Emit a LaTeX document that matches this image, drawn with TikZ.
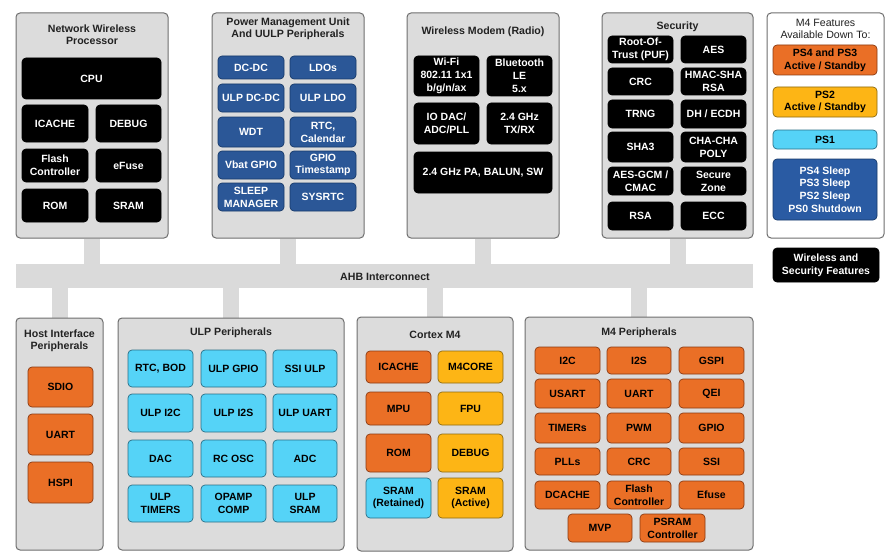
\documentclass[tikz,border=0pt]{standalone}
\usepackage{fontspec}
\setmainfont{Liberation Sans}
\usetikzlibrary{backgrounds}
\definecolor{panelfill}{HTML}{DCDCDC}
\definecolor{panelborder}{HTML}{6E6E6E}
\definecolor{busgray}{HTML}{DADADA}
\definecolor{pmublue}{HTML}{2B5797}
\definecolor{pmuedge}{HTML}{173A6A}
\definecolor{orangeF}{HTML}{EA6F26}
\definecolor{orangeE}{HTML}{8A3A12}
\definecolor{yellowF}{HTML}{FDB515}
\definecolor{yellowE}{HTML}{8C6B12}
\definecolor{cyanF}{HTML}{55D3F7}
\definecolor{cyanE}{HTML}{2A6F86}
\definecolor{dblueF}{HTML}{2A5BA3}
\definecolor{titlegray}{HTML}{222222}
\newcommand\cellfont{\fontsize{10.5}{12.8}\selectfont\bfseries}
\newcommand\mycell[7]{\node[#1,minimum width=#5pt,minimum height=#6pt] (#2) at (#3,#4) {#7};}
\tikzset{
  panel/.style={draw=panelborder, fill=panelfill, rounded corners=4pt, line width=1pt, inner sep=0pt},
  ptitle/.style={align=center, font=\fontsize{10.6}{12}\selectfont\bfseries, text=titlegray, inner sep=0pt},
  cellbox/.style={rounded corners=4pt, inner sep=0pt, align=center, font=\cellfont, line width=0.7pt},
  blk/.style={cellbox, fill=black, draw=black, text=white},
  pmub/.style={cellbox, fill=pmublue, draw=pmuedge, text=white},
  org/.style={cellbox, fill=orangeF, draw=orangeE, text=black},
  yel/.style={cellbox, fill=yellowF, draw=yellowE, text=black},
  cyn/.style={cellbox, fill=cyanF, draw=cyanE, text=black},
  dbl/.style={cellbox, fill=dblueF, draw=pmuedge, text=white},
  stub/.style={draw=busgray, line width=16pt},
}
\begin{document}
\begin{tikzpicture}[x=1pt,y=-1pt]
\useasboundingbox (0,0) rectangle (890,559);
% bus
\node[fill=busgray, inner sep=0pt, minimum width=737pt, minimum height=24pt] (bus) at (384.5,276) {};
\node[font=\fontsize{10.6}{12}\selectfont\bfseries, text=titlegray, inner sep=0pt] (ahb) at (385,277) {AHB Interconnect};
% panels
\node[panel, minimum width=152pt, minimum height=225pt] (nwp) at (92,125.5) {};
\node[panel, minimum width=152pt, minimum height=225pt] (pmu) at (288,125.5) {};
\node[panel, minimum width=152pt, minimum height=225pt] (modem) at (483,125.5) {};
\node[panel, minimum width=151pt, minimum height=225pt] (sec) at (677.5,125.5) {};
\node[panel, fill=white, minimum width=117pt, minimum height=225pt] (legend) at (825.5,125.5) {};
\node[panel, minimum width=87pt, minimum height=232pt] (host) at (59.5,434) {};
\node[panel, minimum width=226pt, minimum height=232pt] (ulp) at (231,434) {};
\node[panel, minimum width=156pt, minimum height=234pt] (cortex) at (435,434) {};
\node[panel, minimum width=228pt, minimum height=233pt] (m4p) at (639,433.5) {};
% stubs
\begin{scope}[on background layer]
\draw[stub] (nwp) -- (nwp |- bus);
\draw[stub] (pmu) -- (pmu |- bus);
\draw[stub] (modem) -- (modem |- bus);
\draw[stub] (sec) -- (sec |- bus);
\draw[stub] (host) -- (host |- bus);
\draw[stub] (ulp) -- (ulp |- bus);
\draw[stub] (cortex) -- (cortex |- bus);
\draw[stub] (m4p) -- (m4p |- bus);
\end{scope}
% titles
\node[ptitle] (tnwp) at (92,34.5) {Network Wireless\\Processor};
\node[ptitle] (tpmu) at (288,28.5) {Power Management Unit\\And UULP Peripherals};
\node[ptitle] (tmodem) at (483,32) {Wireless Modem (Radio)};
\node[ptitle] (tsec) at (677.5,27) {Security};
\node[align=center, font=\fontsize{10.6}{12}\selectfont, text=titlegray, inner sep=0pt] (tleg) at (825.5,29) {M4 Features\\Available Down To:};
\node[ptitle] (thost) at (59.5,340.5) {Host Interface\\Peripherals};
\node[ptitle] (tulp) at (231,333) {ULP Peripherals};
\node[ptitle] (tcortex) at (435,335) {Cortex M4};
\node[ptitle] (tm4p) at (639,333) {M4 Peripherals};
% NWP
\mycell{blk}{cpu}{91.5}{78.5}{139}{41}{CPU}
\mycell{blk}{nicache}{55}{123.5}{66}{37}{ICACHE}
\mycell{blk}{ndebug}{128.5}{123.5}{65}{37}{DEBUG}
\mycell{blk}{nflash}{55}{165.5}{66}{33}{Flash\\Controller}
\mycell{blk}{nefuse}{128.5}{165.5}{65}{33}{eFuse}
\mycell{blk}{nrom}{55}{205.5}{66}{33}{ROM}
\mycell{blk}{nsram}{128.5}{205.5}{65}{33}{SRAM}
% PMU
\mycell{pmub}{dcdc}{251}{67.5}{66}{23}{DC-DC}
\mycell{pmub}{ldos}{323}{67.5}{66}{23}{LDOs}
\mycell{pmub}{uldcdc}{251}{98}{66}{28}{ULP DC-DC}
\mycell{pmub}{ulldo}{323}{98}{66}{28}{ULP LDO}
\mycell{pmub}{wdt}{251}{132}{66}{30}{WDT}
\mycell{pmub}{rtccal}{323}{132}{66}{30}{RTC,\\Calendar}
\mycell{pmub}{vbat}{251}{165}{66}{28}{Vbat GPIO}
\mycell{pmub}{gpiots}{323}{165}{66}{28}{GPIO\\Timestamp}
\mycell{pmub}{sleepm}{251}{197}{66}{28}{SLEEP\\MANAGER}
\mycell{pmub}{sysrtc}{323}{197}{66}{28}{SYSRTC}
% Modem
\mycell{blk}{wifi}{446.5}{76}{65}{40}{Wi-Fi\\802.11 1x1\\b/g/n/ax}
\mycell{blk}{ble}{519.5}{76}{65}{40}{Bluetooth\\LE\\5.x}
\mycell{blk}{iodac}{446.5}{123.5}{65}{41}{IO DAC/\\ADC/PLL}
\mycell{blk}{txrx}{519.5}{123.5}{65}{41}{2.4 GHz\\TX/RX}
\mycell{blk}{pa}{483}{172.5}{138}{41}{2.4 GHz PA, BALUN, SW}
% Security
\mycell{blk}{rot}{640.5}{49.5}{65}{27}{Root-Of-\\Trust (PUF)}
\mycell{blk}{aes}{713.5}{49.5}{65}{27}{AES}
\mycell{blk}{scrc}{640.5}{81.5}{65}{27}{CRC}
\mycell{blk}{hmac}{713.5}{81.5}{65}{27}{HMAC-SHA\\RSA}
\mycell{blk}{trng}{640.5}{114}{65}{28}{TRNG}
\mycell{blk}{dh}{713.5}{114}{65}{28}{DH / ECDH}
\mycell{blk}{sha3}{640.5}{147}{65}{30}{SHA3}
\mycell{blk}{chacha}{713.5}{147}{65}{30}{CHA-CHA\\POLY}
\mycell{blk}{aesgcm}{640.5}{181}{65}{28}{AES-GCM /\\CMAC}
\mycell{blk}{szone}{713.5}{181}{65}{28}{Secure\\Zone}
\mycell{blk}{srsa}{640.5}{216}{65}{28}{RSA}
\mycell{blk}{ecc}{713.5}{216}{65}{28}{ECC}
% Legend
\mycell{org}{ps43}{825}{60}{104}{30}{PS4 and PS3\\Active / Standby}
\mycell{yel}{ps2}{825}{102}{104}{30}{PS2\\Active / Standby}
\mycell{cyn}{ps1}{825}{139.5}{104}{19}{PS1}
\mycell{dbl}{pssleep}{825}{189.5}{104}{61}{PS4 Sleep\\PS3 Sleep\\PS2 Sleep\\PS0 Shutdown}
\mycell{blk}{wsf}{826}{265}{106}{34}{Wireless and\\Security Features}
% Host
\mycell{org}{sdio}{60.5}{387}{65}{40}{SDIO}
\mycell{org}{huart}{60.5}{434.5}{65}{41}{UART}
\mycell{org}{hspi}{60.5}{482.5}{65}{41}{HSPI}
% ULP
\mycell{cyn}{rtcbod}{160.5}{368.5}{65}{37}{RTC, BOD}
\mycell{cyn}{ulgpio}{233.5}{368.5}{65}{37}{ULP GPIO}
\mycell{cyn}{ssiulp}{305}{368.5}{64}{37}{SSI ULP}
\mycell{cyn}{uli2c}{160.5}{413}{65}{38}{ULP I2C}
\mycell{cyn}{uli2s}{233.5}{413}{65}{38}{ULP I2S}
\mycell{cyn}{uluart}{305}{413}{64}{38}{ULP UART}
\mycell{cyn}{dac}{160.5}{458.5}{65}{37}{DAC}
\mycell{cyn}{rcosc}{233.5}{458.5}{65}{37}{RC OSC}
\mycell{cyn}{adc}{305}{458.5}{64}{37}{ADC}
\mycell{cyn}{ultim}{160.5}{503.5}{65}{37}{ULP\\TIMERS}
\mycell{cyn}{opamp}{233.5}{503.5}{65}{37}{OPAMP\\COMP}
\mycell{cyn}{ulsram}{305}{503.5}{64}{37}{ULP\\SRAM}
% Cortex
\mycell{org}{cicache}{398.5}{367}{65}{32}{ICACHE}
\mycell{yel}{m4core}{470.5}{367}{65}{32}{M4CORE}
\mycell{org}{mpu}{398.5}{408.5}{65}{33}{MPU}
\mycell{yel}{fpu}{470.5}{408.5}{65}{33}{FPU}
\mycell{org}{crom}{398.5}{453}{65}{38}{ROM}
\mycell{yel}{cdebug}{470.5}{453}{65}{38}{DEBUG}
\mycell{cyn}{sramret}{398.5}{498}{65}{40}{SRAM\\(Retained)}
\mycell{yel}{sramact}{470.5}{498}{65}{40}{SRAM\\(Active)}
% M4 peripherals
\mycell{org}{i2c}{567.5}{360.5}{65}{27}{I2C}
\mycell{org}{i2s}{639}{360.5}{64}{27}{I2S}
\mycell{org}{gspi}{711.5}{360.5}{65}{27}{GSPI}
\mycell{org}{usart}{567.5}{393.5}{65}{29}{USART}
\mycell{org}{muart}{639}{393.5}{64}{29}{UART}
\mycell{org}{qei}{711.5}{393.5}{65}{29}{QEI}
\mycell{org}{timers}{567.5}{428}{65}{30}{TIMERs}
\mycell{org}{pwm}{639}{428}{64}{30}{PWM}
\mycell{org}{gpio}{711.5}{428}{65}{30}{GPIO}
\mycell{org}{plls}{567.5}{461.5}{65}{27}{PLLs}
\mycell{org}{mcrc}{639}{461.5}{64}{27}{CRC}
\mycell{org}{ssi}{711.5}{461.5}{65}{27}{SSI}
\mycell{org}{dcache}{567.5}{495}{65}{28}{DCACHE}
\mycell{org}{mflash}{639}{495}{64}{28}{Flash\\Controller}
\mycell{org}{efuse}{711.5}{495}{65}{28}{Efuse}
\mycell{org}{mvp}{600}{528}{64}{28}{MVP}
\mycell{org}{psram}{672.5}{528}{65}{28}{PSRAM\\Controller}
\end{tikzpicture}
\end{document}
